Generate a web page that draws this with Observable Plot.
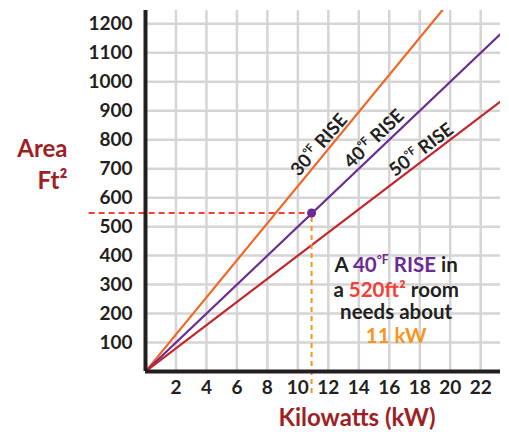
<!DOCTYPE html>
<html><head><meta charset="utf-8">
<script src="https://cdn.jsdelivr.net/npm/d3@7"></script>
<script src="https://cdn.jsdelivr.net/npm/@observablehq/plot@0.6"></script>
<style>body{margin:0;background:#fff} svg{display:block}</style>
</head><body><div id="chart"></div>
<script>
// ---- data ----
const kW = [0, 24];
const area30 = [0, 1536];
const area40 = [0, 1200];
const area50 = [0, 960];
const xTicks = [2, 4, 6, 8, 10, 12, 14, 16, 18, 20, 22];
const yTicks = [100, 200, 300, 400, 500, 600, 700, 800, 900, 1000, 1100, 1200];
const riseNames = ["30", "40", "50"];
const riseLabelKW = [11.4, 15.0, 18.1];
const riseLabelArea = [782, 803, 765];
const riseLabelAngle = [-49, -44, -37];
const markKW = 10.9;
const markArea = 547;
const dashStartKW = -3.7;
const dashEndArea = -76;
const annoKW = 16.45;
const annoArea = [366, 280, 205, 122];
const annoLines = [
  [["A ", "dark"], ["40", "purple"], ["°F", "purple", true], [" RISE", "purple"], [" in", "dark"]],
  [["a ", "dark"], ["520ft²", "red2"], [" room", "dark"]],
  [["needs about", "dark"]],
  [["11 kW", "orange2"]]
];

const C = {
  dark: "#231f20", orange: "#f26522", purple: "#6a2c91", red: "#c1272d",
  red2: "#ef4136", orange2: "#f7941d", grid: "#d5d5d5", title: "#9e1f24"
};

const lines = [];
[area30, area40, area50].forEach((arr, s) => arr.forEach((a, i) => lines.push({kw: kW[i], area: a, s})));
const lineColors = [C.orange, C.purple, C.red];
const riseLabels = riseNames.map((n, i) => ({n, kw: riseLabelKW[i], area: riseLabelArea[i], rot: riseLabelAngle[i]}));
const anno = annoLines.map((segs, i) => ({segs, area: annoArea[i]}));

const plot = Plot.plot({
  width: 509, height: 432,
  marginLeft: 145, marginRight: 9, marginTop: 10, marginBottom: 61,
  style: {fontFamily: "Lato, 'Open Sans', sans-serif", fontWeight: 700, fontSize: "19px", color: C.dark, background: "#fff"},
  x: {domain: [0, 23.3]},
  y: {domain: [0, 1246]},
  marks: [
    Plot.gridX(xTicks, {stroke: C.grid, strokeOpacity: 1, strokeWidth: 2.5}),
    Plot.gridY(yTicks, {stroke: C.grid, strokeOpacity: 1, strokeWidth: 2.5}),
    Plot.line(lines, {x: "kw", y: "area", z: "s", stroke: d => lineColors[d.s], strokeWidth: 2.2, clip: true}),
    Plot.ruleY([markArea], {x1: dashStartKW, x2: markKW, stroke: C.red2, strokeWidth: 2, strokeDasharray: "6,4"}),
    Plot.ruleX([markKW], {y1: dashEndArea, y2: markArea, stroke: C.orange2, strokeWidth: 2, strokeDasharray: "5,4"}),
    Plot.ruleX([0], {stroke: C.dark, strokeWidth: 4}),
    Plot.ruleY([0], {stroke: C.dark, strokeWidth: 4}),
    Plot.dot([{kw: markKW, area: markArea}], {x: "kw", y: "area", r: 4.5, fill: C.purple}),
    Plot.axisX(xTicks, {tickSize: 0, tickPadding: 9, label: null, tickFormat: d => String(d), fontSize: 19, fontWeight: 700}),
    Plot.axisY(yTicks, {tickSize: 0, tickPadding: 13, label: null, tickFormat: d => String(d), fontSize: 19, fontWeight: 700}),
    Plot.text(riseLabels, {x: "kw", y: "area", text: d => d.n + "°F RISE", rotate: "rot", fontSize: 18.5, fontWeight: 700, fill: C.dark, className: "rise"}),
    Plot.text(anno, {x: () => annoKW, y: "area", text: d => d.segs.map(s => s[0]).join(""), fontSize: 20.5, fontWeight: 700, fill: C.dark, className: "anno"}),
    Plot.text(["Area"], {frameAnchor: "top-left", lineAnchor: "middle", dx: -78, dy: 139, textAnchor: "end", fontSize: 24, fontWeight: 700, fill: C.title}),
    Plot.text(["Ft²"], {frameAnchor: "top-left", lineAnchor: "middle", dx: -78, dy: 171, textAnchor: "end", fontSize: 24, fontWeight: 700, fill: C.title}),
    Plot.text(["Kilowatts (kW)"], {frameAnchor: "bottom", lineAnchor: "middle", dx: 34, dy: 47, fontSize: 24, fontWeight: 700, fill: C.title})
  ]
});

function rich(textEl, segs, fs) {
  const t = d3.select(textEl);
  t.text(null);
  let shifted = false;
  segs.forEach(([str, col, sup]) => {
    const ts = t.append("tspan").text(str).attr("fill", C[col] || C.dark);
    if (sup) {
      ts.attr("font-size", (fs * 0.6) + "px").attr("dy", (-fs * 0.38) + "px");
      shifted = true;
    } else if (shifted) {
      ts.attr("dy", (fs * 0.38) + "px");
      shifted = false;
    }
  });
}
d3.select(plot).selectAll("g.rise text").each(function(_, i) {
  const d = riseLabels[i];
  rich(this, [[d.n, "dark"], ["°F", "dark", true], [" RISE", "dark"]], 18.5);
});
d3.select(plot).selectAll("g.anno text").each(function(_, i) {
  rich(this, anno[i].segs, 20.5);
});

document.getElementById("chart").appendChild(plot);
</script>
</body></html>
